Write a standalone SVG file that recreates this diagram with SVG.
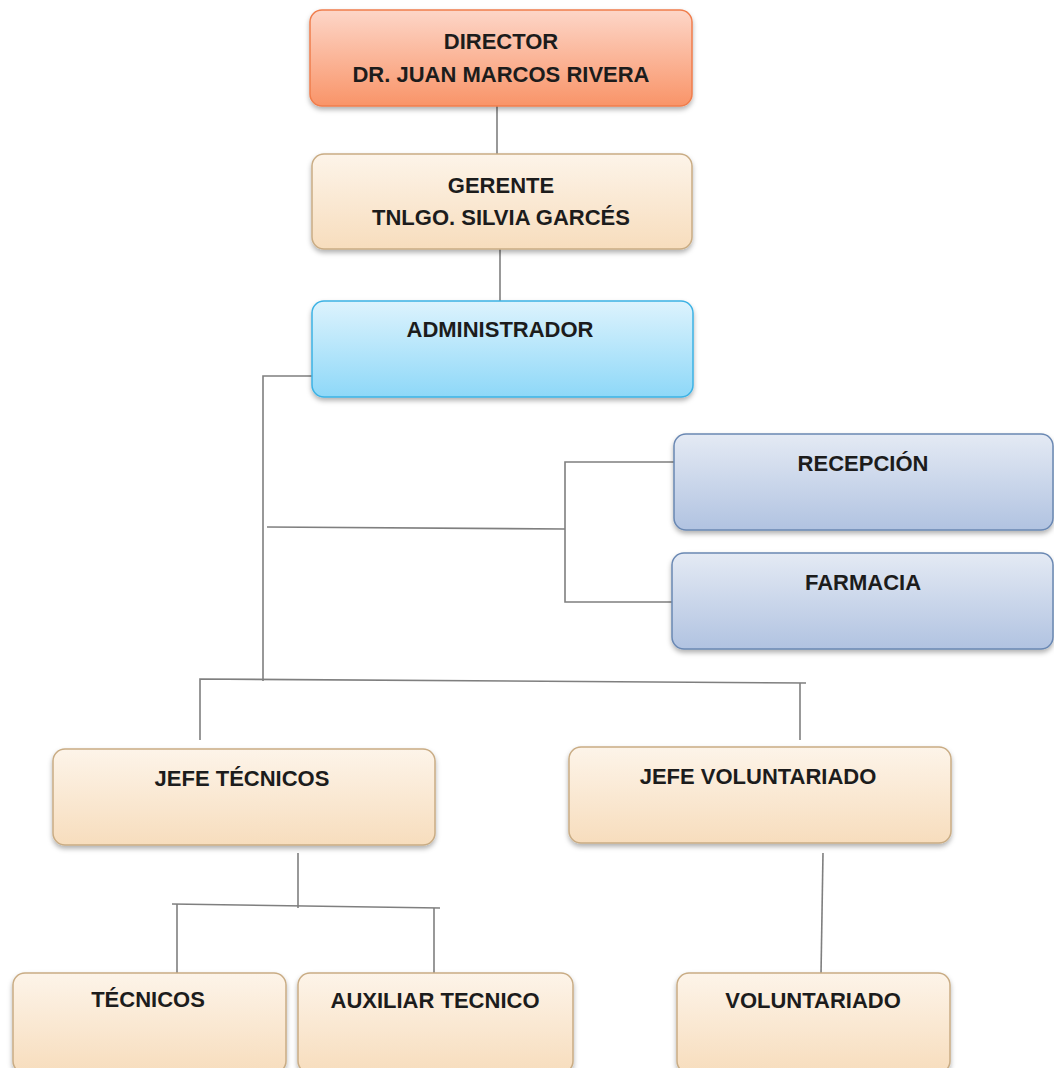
<svg xmlns="http://www.w3.org/2000/svg" width="1054" height="1068" viewBox="0 0 1054 1068">
<style>
text{font-family:"Liberation Sans",Arial,sans-serif;font-weight:bold;font-size:22px;fill:#1c1c1c;text-anchor:middle}
.conn line,.conn polyline{stroke:#7f7f7f;stroke-width:1.6;fill:none}
.peach{fill:url(#gPeach);stroke:#c9ac84;stroke-width:1.5}
.blue{fill:url(#gBlue);stroke:#6a88b3;stroke-width:1.5}
.red{fill:url(#gRed);stroke:#f07d4c;stroke-width:1.5}
.cyan{fill:url(#gCyan);stroke:#3cb2e4;stroke-width:1.5}
rect{filter:url(#sh)}
</style>
<defs>
<linearGradient id="gPeach" x1="0" y1="0" x2="0" y2="1"><stop offset="0" stop-color="#fdf4e9"/><stop offset="1" stop-color="#f7ddbd"/></linearGradient>
<linearGradient id="gBlue" x1="0" y1="0" x2="0" y2="1"><stop offset="0" stop-color="#e4eaf4"/><stop offset="1" stop-color="#b1c3e1"/></linearGradient>
<linearGradient id="gRed" x1="0" y1="0" x2="0" y2="1"><stop offset="0" stop-color="#fdd6c8"/><stop offset="1" stop-color="#f99468"/></linearGradient>
<linearGradient id="gCyan" x1="0" y1="0" x2="0" y2="1"><stop offset="0" stop-color="#ddf3fd"/><stop offset="1" stop-color="#8ed8f8"/></linearGradient>
<filter id="sh" x="-5%" y="-10%" width="110%" height="130%"><feDropShadow dx="0" dy="3" stdDeviation="2.5" flood-color="#000" flood-opacity="0.3"/></filter>
</defs>
<g class="conn">
<line x1="497" y1="106" x2="497" y2="163"/>
<line x1="500" y1="249" x2="500" y2="301"/>
<polyline points="312,376 263,376 263,681"/>
<line x1="267" y1="527" x2="565" y2="529"/>
<polyline points="675,462 565,462 565,602 676,602"/>
<polyline points="200,740 200,679 806,683"/>
<line x1="800" y1="683" x2="800" y2="740"/>
<line x1="298" y1="853" x2="298" y2="908"/>
<line x1="172" y1="904" x2="440" y2="908"/>
<line x1="177" y1="904" x2="177" y2="973"/>
<line x1="434" y1="908" x2="434" y2="979"/>
<line x1="823" y1="853" x2="821" y2="974"/>
</g>
<g id="director"><rect class="red" x="310" y="10" width="382" height="96" rx="12"/><text x="501" y="49">DIRECTOR</text><text x="501" y="82">DR. JUAN MARCOS RIVERA</text></g>
<g id="gerente"><rect class="peach" x="312" y="154" width="380" height="95" rx="12"/><text x="501" y="193">GERENTE</text><text x="501" y="225">TNLGO. SILVIA GARCÉS</text></g>
<g id="administrador"><rect class="cyan" x="312" y="301" width="381" height="96" rx="12"/><text x="500" y="337">ADMINISTRADOR</text></g>
<g id="recepcion"><rect class="blue" x="674" y="434" width="379" height="96" rx="12"/><text x="863" y="471">RECEPCIÓN</text></g>
<g id="farmacia"><rect class="blue" x="672" y="553" width="381" height="96" rx="12"/><text x="863" y="590">FARMACIA</text></g>
<g id="jefe-tecnicos"><rect class="peach" x="53" y="749" width="382" height="96" rx="12"/><text x="242" y="786">JEFE TÉCNICOS</text></g>
<g id="jefe-voluntariado"><rect class="peach" x="569" y="747" width="382" height="96" rx="12"/><text x="758" y="784">JEFE VOLUNTARIADO</text></g>
<g id="tecnicos"><rect class="peach" x="13" y="973" width="273" height="100" rx="12"/><text x="148" y="1007">TÉCNICOS</text></g>
<g id="auxiliar-tecnico"><rect class="peach" x="298" y="973" width="275" height="100" rx="12"/><text x="435" y="1008">AUXILIAR TECNICO</text></g>
<g id="voluntariado"><rect class="peach" x="677" y="973" width="273" height="100" rx="12"/><text x="813" y="1008">VOLUNTARIADO</text></g>
</svg>
